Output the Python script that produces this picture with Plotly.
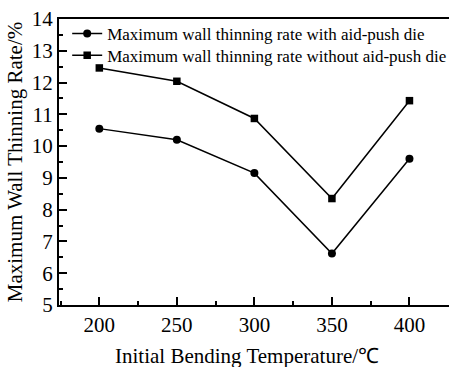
import plotly.graph_objects as go

temps = [200, 250, 300, 350, 400]
with_aid = [10.55, 10.2, 9.15, 6.62, 9.6]
without_aid = [12.46, 12.04, 10.87, 8.35, 11.43]
x_ticks = [200, 250, 300, 350, 400]
y_ticks = [5, 6, 7, 8, 9, 10, 11, 12, 13, 14]

FONT = "Liberation Serif, Times New Roman, serif"

fig = go.Figure()
fig.add_trace(go.Scatter(
    x=temps, y=with_aid, mode="lines+markers",
    name="Maximum wall thinning rate with aid-push die",
    line=dict(color="black", width=1.5),
    marker=dict(symbol="circle", size=8, color="black"),
    legend="legend",
))
fig.add_trace(go.Scatter(
    x=temps, y=without_aid, mode="lines+markers",
    name="Maximum wall thinning rate without aid-push die",
    line=dict(color="black", width=1.5),
    marker=dict(symbol="square", size=7.5, color="black"),
    legend="legend2",
))

leg_common = dict(
    xanchor="left", yanchor="middle",
    bgcolor="rgba(0,0,0,0)", borderwidth=0,
    font=dict(family=FONT, size=17, color="black"),
    itemsizing="trace",
)

fig.update_layout(
    width=449, height=367,
    margin=dict(l=59, r=0, t=19, b=62, autoexpand=False),
    paper_bgcolor="white", plot_bgcolor="white",
    font=dict(family=FONT, color="black"),
    showlegend=True,
    legend=dict(x=0.021, y=0.948, **leg_common),
    legend2=dict(x=0.021, y=0.872, **leg_common),
    xaxis=dict(
        range=[174, 425.5], tickvals=x_ticks,
        ticks="inside", ticklen=8, tickwidth=1.5, tickcolor="black",
        minor=dict(ticks="inside", ticklen=4, tickwidth=1.5, tickcolor="black", dtick=25, tick0=0),
        showline=True, linecolor="black", linewidth=2, mirror=True,
        showgrid=False, zeroline=False,
        tickfont=dict(family=FONT, size=21, color="black"),
    ),
    yaxis=dict(
        range=[5, 14], tickvals=y_ticks,
        ticks="inside", ticklen=8, tickwidth=1.5, tickcolor="black",
        minor=dict(ticks="inside", ticklen=4, tickwidth=1.5, tickcolor="black", dtick=0.5, tick0=0),
        showline=True, linecolor="black", linewidth=2,
        showgrid=False, zeroline=False,
        tickfont=dict(family=FONT, size=21, color="black"),
        title=dict(text="Maximum Wall Thinning Rate/%", font=dict(family=FONT, size=21, color="black"), standoff=3),
    ),
    annotations=[dict(
        text="Initial Bending Temperature/℃", xref="paper", yref="paper",
        x=0.481, y=-0.1766, xanchor="center", yanchor="middle", showarrow=False,
        font=dict(family=FONT, size=21, color="black"),
    )],
)

fig.write_html("out.html")
